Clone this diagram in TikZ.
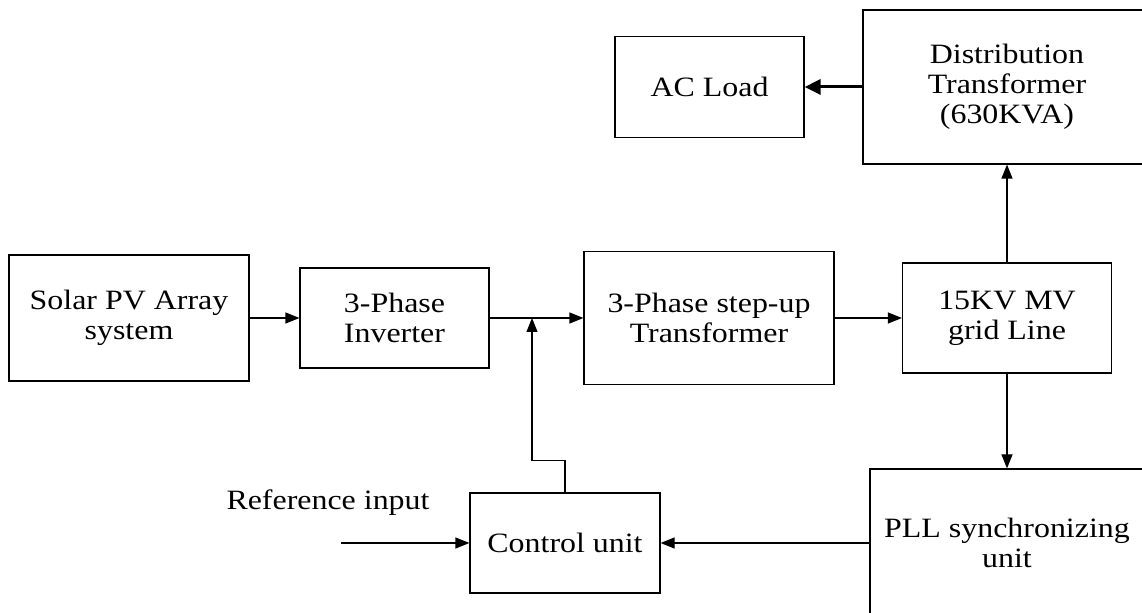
\documentclass[tikz,border=0pt]{standalone}
\usepackage{fontspec}
\setmainfont{Liberation Serif}[FakeStretch=1.14]
\usetikzlibrary{arrows.meta,positioning}

\begin{document}
\begin{tikzpicture}[
                x=0.5pt, y=-0.5pt,
                font=\fontsize{14}{15}\selectfont,
                bloque/.style={draw, line width=0.6pt, inner sep=0pt, align=center},
                flecha/.style={-{Triangle[length=7pt, width=5.5pt]}, line width=0.6pt},
                flechag/.style={-{Triangle[length=8pt, width=7.5pt]}, line width=1.5pt}
            ]
            \useasboundingbox (0,0) rectangle (1142,613);

            % main power chain
            \node[bloque, minimum width=120pt, minimum height=63pt] (pv) at (129,318) {Solar PV Array\\system};
            \node[bloque, minimum width=94.5pt, minimum height=50pt] (inv) at (394.5,318) {3-Phase\\Inverter};
            \node[bloque, minimum width=125pt, minimum height=66.5pt] (sup) at (709,318) {3-Phase step-up\\Transformer};
            \node[bloque, minimum width=104.5pt, minimum height=55pt] (grid) at (1007,318) {15KV MV\\grid Line};

            % distribution side
            \node[bloque, minimum width=144pt, minimum height=77pt] (dist) at (1007,87) {Distribution\\Transformer\\(630KVA)};
            \node[bloque, minimum width=94.5pt, minimum height=50.5pt] (load) at (709.5,87) {AC Load};

            % control loop
            \node[bloque, minimum width=137pt, minimum height=74pt] (pll) at (1007,543) {PLL synchronizing\\unit};
            \node[bloque, minimum width=95pt, minimum height=50pt] (ctrl) at (565,543) {Control unit};
            \node[anchor=base] (reftxt) at (328,510) {Reference input};
            \coordinate (ref) at (341,543);
            \coordinate (jn) at (532,318);

            \draw[flecha] (pv) -- (inv);
            \draw[flecha] (inv) -- (sup);
            \draw[flecha] (sup) -- (grid);
            \draw[flecha] (grid) -- (dist);
            \draw[flechag] (dist) -- (load);
            \draw[flecha] (grid) -- (pll);
            \draw[flecha] (pll) -- (ctrl);
            \draw[flecha] (ref) -- (ctrl);
            \draw[flecha] (ctrl.north) -- ++(0,-32) -| (jn);
        \end{tikzpicture}
\end{document}
